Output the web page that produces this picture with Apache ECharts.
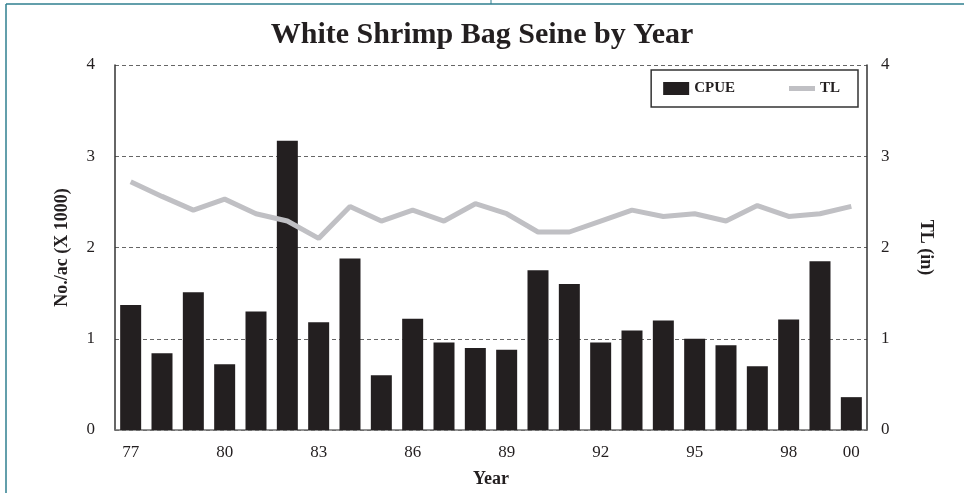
<!DOCTYPE html>
<html>
<head>
<meta charset="utf-8">
<script src="https://cdn.jsdelivr.net/npm/echarts@6/dist/echarts.min.js"></script>
<style>
html,body{margin:0;padding:0;background:#fff;}
#chart{width:964px;height:493px;}
</style>
</head>
<body>
<div id="chart"></div>
<script>
const years = ['77','78','79','80','81','82','83','84','85','86','87','88','89','90','91','92','93','94','95','96','97','98','99','00'];
const cpue = [1.37,0.84,1.51,0.72,1.30,3.17,1.18,1.88,0.60,1.22,0.96,0.90,0.88,1.75,1.60,0.96,1.09,1.20,1.00,0.93,0.70,1.21,1.85,0.36];
const tl = [2.72,2.56,2.41,2.53,2.37,2.29,2.10,2.45,2.29,2.41,2.29,2.48,2.37,2.17,2.17,2.29,2.41,2.34,2.37,2.29,2.46,2.34,2.37,2.45];
const yTicks = [0,1,2,3,4];

const serif = '"Liberation Serif", "DejaVu Serif", serif';
const chart = echarts.init(document.getElementById('chart'), null, {renderer:'canvas'});
chart.setOption({
  animation:false,
  backgroundColor:'#fff',
  textStyle:{fontFamily:serif},
  title:{
    text:'White Shrimp Bag Seine by Year',
    left:'center', top:15,
    textStyle:{fontFamily:serif, fontWeight:'bold', fontSize:30, color:'#231f20'}
  },
  legend:{
    right:106, top:70,
    padding:[11,18,11,12],
    borderColor:'#333', borderWidth:1.5,
    itemGap:54, itemWidth:26, itemHeight:13,
    symbolKeepAspect:true,
    textStyle:{fontFamily:serif, fontWeight:'bold', fontSize:15, color:'#231f20'},
    data:[
      {name:'CPUE', icon:'rect'},
      {name:'TL', icon:'path://M0,0 L26,0 L26,5 L0,5 Z', itemStyle:{color:'#c0c0c4', borderWidth:0}}
    ]
  },
  grid:{left:115, right:97, top:65, bottom:60, containLabel:false},
  xAxis:{
    type:'category', data:years,
    name:'Year', nameLocation:'middle', nameGap:40,
    nameTextStyle:{fontFamily:serif, fontWeight:'bold', fontSize:18, color:'#231f20'},
    axisLine:{lineStyle:{color:'#707070', width:1.5}},
    axisTick:{show:false},
    axisLabel:{
      interval:function(i){return i%3===0 || i===years.length-1;},
      fontFamily:serif, fontSize:17, color:'#231f20', margin:14
    }
  },
  yAxis:[{
    type:'value', min:0, max:4, interval:1,
    name:'No./ac (X 1000)', nameLocation:'middle', nameGap:44, nameRotate:90,
    nameTextStyle:{fontFamily:serif, fontWeight:'bold', fontSize:18, color:'#231f20'},
    axisLine:{show:true, lineStyle:{color:'#333', width:1.5}},
    axisTick:{show:false},
    axisLabel:{fontFamily:serif, fontSize:17, color:'#231f20', margin:20,
      formatter:function(v){return yTicks.indexOf(v)>=0 ? String(v) : '';}},
    splitLine:{show:true, lineStyle:{type:[4,3], color:'#666', width:1}}
  },{
    type:'value', min:0, max:4, interval:1, position:'right',
    name:'TL (in)', nameLocation:'middle', nameGap:50, nameRotate:-90,
    nameTextStyle:{fontFamily:serif, fontWeight:'bold', fontSize:18, color:'#231f20'},
    axisLine:{show:true, lineStyle:{color:'#333', width:1.5}},
    axisTick:{show:false},
    axisLabel:{fontFamily:serif, fontSize:17, color:'#231f20', margin:14},
    splitLine:{show:false}
  }],
  series:[{
    name:'CPUE', type:'bar', data:cpue, yAxisIndex:0,
    barCategoryGap:'33%',
    itemStyle:{color:'#231f20'}
  },{
    name:'TL', type:'line', data:tl, yAxisIndex:1,
    symbol:'none', showSymbol:false,
    lineStyle:{color:'#c0c0c4', width:5},
    itemStyle:{color:'#c0c0c4'}
  }],
  graphic:[
    {type:'line', shape:{x1:6,y1:4,x2:6,y2:493}, style:{stroke:'#2f7f8f', lineWidth:1.5}, silent:true},
    {type:'line', shape:{x1:6,y1:4,x2:964,y2:4}, style:{stroke:'#2f7f8f', lineWidth:1.5}, silent:true},
    {type:'line', shape:{x1:491,y1:0,x2:491,y2:4}, style:{stroke:'#2f7f8f', lineWidth:1}, silent:true}
  ]
});
</script>
</body>
</html>
